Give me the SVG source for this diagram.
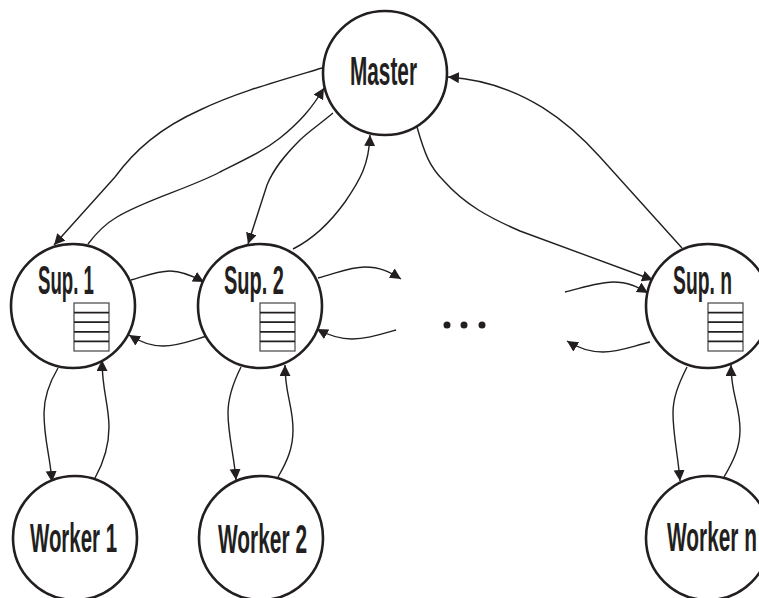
<svg xmlns="http://www.w3.org/2000/svg" width="759" height="598" viewBox="0 0 759 598">
<style>
.n{fill:#fff;stroke:#231f20;stroke-width:2.6}
.c{fill:none;stroke:#231f20;stroke-width:1.4;marker-end:url(#a)}
.t{font-family:"Liberation Sans",Arial,sans-serif;font-size:41px;font-weight:bold;fill:#231f20}
.b{fill:#fff;stroke:#444;stroke-width:1.2}
.l{stroke:#231f20;stroke-width:1.8}
</style>
<defs>
<marker id="a" markerUnits="userSpaceOnUse" markerWidth="13" markerHeight="12" refX="11" refY="5.5" orient="auto"><path d="M0 0L11 5.5L0 11Z" fill="#231f20"/></marker>
<g id="q"><rect class="b" width="35" height="48"/><path class="l" d="M0 9.6H35M0 19.2H35M0 28.8H35M0 38.4H35"/></g>
</defs>
<g id="connectors">
<path class="c" d="M322 68C275 82 235 93 200 110C160 128 135 150 115 177L54 245"/>
<path class="c" d="M88 244C97 232 105 224 117 217C145 200 190 188 220 172C250 157 265 150 280 138C300 122 312 108 324 88"/>
<path class="c" d="M333 113C320 124 308 132 300 140C285 155 274 168 267 185L248 244"/>
<path class="c" d="M293 249C315 238 332 220 345 202C360 180 369 165 370 135"/>
<path class="c" d="M417 127C425 155 430 167 443 180C465 205 490 218 520 231L653 280"/>
<path class="c" d="M682 248L600 157C573 127 525 82 448 77"/>
<path class="c" d="M131 280C148 275 158 271 170 271C182 271 193 276 204 282"/>
<path class="c" d="M207 336C190 341 178 346 163 346C150 346 140 342 129 335"/>
<path class="c" d="M318 278C340 272 350 267 365 267C380 267 390 272 401 279"/>
<path class="c" d="M396 330C375 336 365 339 352 339C340 339 328 335 317 329"/>
<path class="c" d="M565 292C585 287 600 282 613 282C628 282 638 287 648 293"/>
<path class="c" d="M650 342C630 347 618 352 603 352C590 352 578 348 567 341"/>
<path class="c" d="M58 368C48 385 44 398 44 413C44 440 50 455 52 482"/>
<path class="c" d="M95 478C105 460 109 445 109 427C109 405 102 390 102 360"/>
<path class="c" d="M241 367C232 385 228 398 228 413C228 435 234 455 236 480"/>
<path class="c" d="M278 477C288 460 293 447 293 430C293 405 285 395 285 365"/>
<path class="c" d="M687 367C678 385 673 398 673 413C673 435 678 455 680 481"/>
<path class="c" d="M724 477C734 460 740 447 740 430C740 405 731 395 731 365"/>
</g>
<g id="master"><circle class="n" cx="385" cy="73" r="62"/><text class="t" x="350" y="85" textLength="67" lengthAdjust="spacingAndGlyphs">Master</text></g>
<g id="sup1"><circle class="n" cx="73" cy="306" r="62"/><text class="t" x="38" y="294" textLength="56" lengthAdjust="spacingAndGlyphs">Sup. 1</text><use href="#q" x="74" y="303"/></g>
<g id="sup2"><circle class="n" cx="260" cy="306" r="62"/><text class="t" x="224" y="294" textLength="60" lengthAdjust="spacingAndGlyphs">Sup. 2</text><use href="#q" x="260" y="303"/></g>
<g id="supn"><circle class="n" cx="708" cy="306" r="62"/><text class="t" x="673" y="294" textLength="59" lengthAdjust="spacingAndGlyphs">Sup. n</text><use href="#q" x="708" y="303"/></g>
<g id="worker1"><circle class="n" cx="75" cy="538" r="62"/><text class="t" x="30" y="552" textLength="87" lengthAdjust="spacingAndGlyphs">Worker 1</text></g>
<g id="worker2"><circle class="n" cx="261" cy="538" r="62"/><text class="t" x="218" y="553" textLength="89" lengthAdjust="spacingAndGlyphs">Worker 2</text></g>
<g id="workern"><circle class="n" cx="708" cy="538" r="62"/><text class="t" x="667" y="551" textLength="90" lengthAdjust="spacingAndGlyphs">Worker n</text></g>
<g id="ellipsis" fill="#231f20"><circle cx="447" cy="325" r="3.5"/><circle cx="464" cy="325" r="3.5"/><circle cx="482" cy="325" r="3.5"/></g>
</svg>
